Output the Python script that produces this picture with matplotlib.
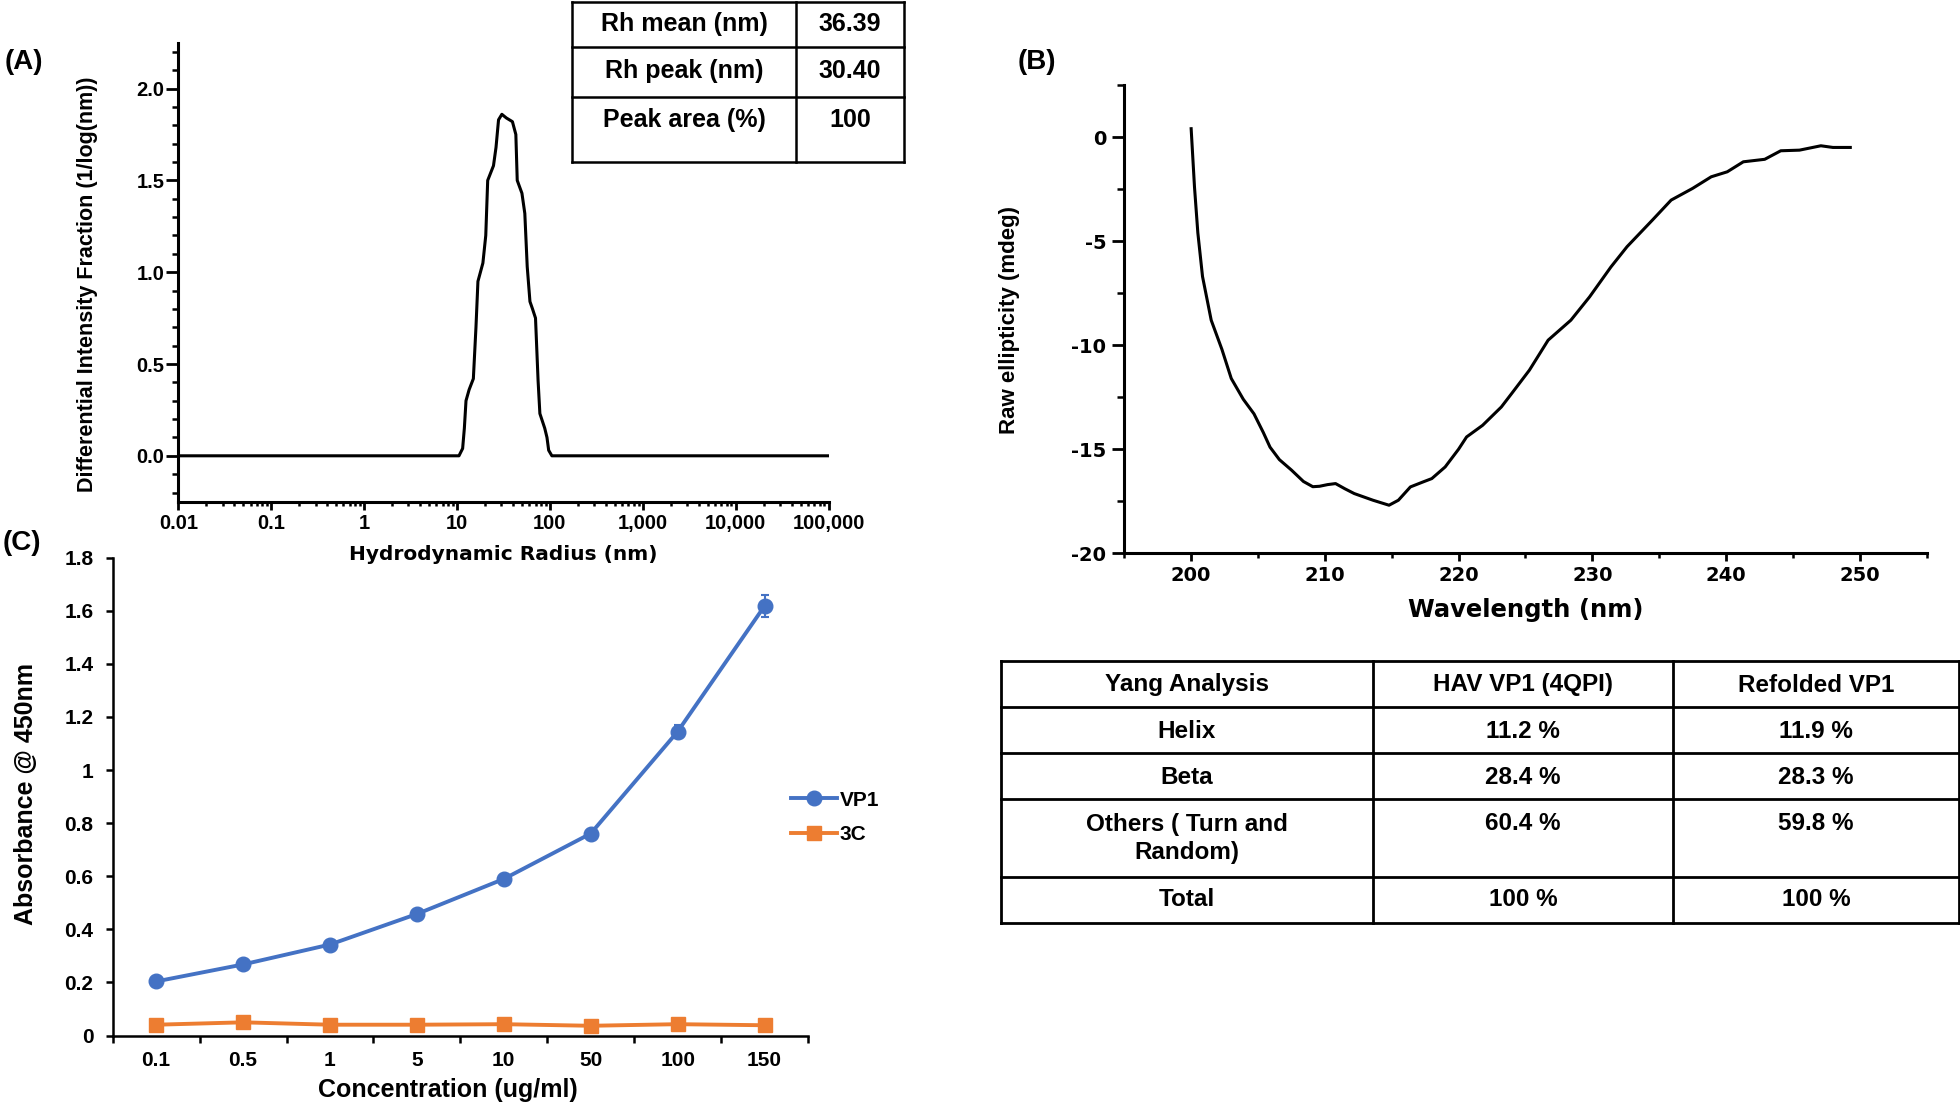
import matplotlib
matplotlib.use('Agg')
import matplotlib.pyplot as plt
from matplotlib.ticker import MultipleLocator, FixedLocator, NullFormatter, FormatStrFormatter
import numpy as np

plt.rcParams['axes.unicode_minus'] = False

W, H = 1960, 1107
ARIAL = ['Liberation Sans', 'DejaVu Sans']
DEJAVU = ['DejaVu Sans']

# ---------------- data ----------------
# (A) DLS size distribution
dls_radius_nm = [0.01, 1.0, 10.5, 11.5, 12.0, 12.5, 13.5, 15.0, 16.0, 16.8, 19.0, 20.4, 21.4,
                 24.7, 26.3, 28.0, 30.4, 34.0, 39.5, 43.0, 44.5, 50.0, 53.7, 57.0, 61.0,
                 65.0, 70.0, 74.6, 78.0, 88.0, 93.0, 97.0, 105.0, 1000.0, 100000.0]
dls_intensity = [0.0, 0.0, 0.0, 0.04, 0.15, 0.30, 0.36, 0.42, 0.70, 0.95, 1.05, 1.20, 1.50,
                 1.58, 1.68, 1.83, 1.86, 1.84, 1.82, 1.75, 1.50, 1.43, 1.32, 1.03, 0.84,
                 0.80, 0.75, 0.41, 0.23, 0.15, 0.10, 0.03, 0.0, 0.0, 0.0]
dls_xticks = [0.01, 0.1, 1, 10, 100, 1000, 10000, 100000]
dls_xticklabels = ['0.01', '0.1', '1', '10', '100', '1,000', '10,000', '100,000']
dls_table_rows = ['Rh mean (nm)', 'Rh peak (nm)', 'Peak area (%)']
dls_table_vals = ['36.39', '30.40', '100']

# (B) CD spectrum
cd_wavelength = [200.0, 200.25, 200.5, 200.85, 201.5, 202.3, 203.0, 203.9, 204.7, 205.4,
                 205.9, 206.6, 207.5, 208.4, 209.1, 209.6, 210.2, 210.8, 211.5, 212.2,
                 213.6, 214.8, 215.5, 216.4, 217.35, 218.0, 219.0, 220.0, 220.6, 221.8,
                 223.2, 224.0, 225.3, 226.7, 228.4, 229.8, 231.4, 232.6, 234.5, 235.9,
                 237.5, 238.9, 240.1, 241.3, 242.9, 244.1, 245.5, 247.1, 248.0, 249.3]
cd_ellipticity = [0.4, -2.4, -4.6, -6.7, -8.8, -10.2, -11.6, -12.6, -13.3, -14.2,
                  -14.9, -15.5, -16.0, -16.55, -16.8, -16.78, -16.7, -16.65, -16.9, -17.13,
                  -17.45, -17.69, -17.45, -16.81, -16.57, -16.41, -15.85, -15.0, -14.41, -13.85,
                  -12.97, -12.3, -11.2, -9.76, -8.8, -7.68, -6.24, -5.27, -3.99, -3.03,
                  -2.47, -1.91, -1.67, -1.19, -1.07, -0.66, -0.63, -0.42, -0.50, -0.50]

# (C) ELISA
conc_labels = ['0.1', '0.5', '1', '5', '10', '50', '100', '150']
vp1_abs = [0.204, 0.268, 0.343, 0.458, 0.590, 0.761, 1.145, 1.618]
vp1_err = [0.01, 0.01, 0.01, 0.01, 0.012, 0.012, 0.025, 0.04]
c3_abs = [0.041, 0.050, 0.041, 0.041, 0.043, 0.037, 0.043, 0.039]

# Yang analysis table
yang_header = ['Yang Analysis', 'HAV VP1 (4QPI)', 'Refolded VP1']
yang_rows = ['Helix', 'Beta', 'Others ( Turn and\nRandom)', 'Total']
yang_hav = ['11.2 %', '28.4 %', '60.4 %', '100 %']
yang_refolded = ['11.9 %', '28.3 %', '59.8 %', '100 %']


def px_rect(l, t, r, b):
    return [l / W, 1 - b / H, (r - l) / W, (b - t) / H]


def style_axes(ax, lw=2.2):
    ax.set_facecolor('none')
    for s in ['top', 'right']:
        ax.spines[s].set_visible(False)
    for s in ['left', 'bottom']:
        ax.spines[s].set_linewidth(lw)
        ax.spines[s].set_color('black')


fig = plt.figure(figsize=(W / 100, H / 100), dpi=100)

# overlay for tables and panel letters
ov = fig.add_axes([0, 0, 1, 1], zorder=5)
ov.set_xlim(0, W)
ov.set_ylim(H, 0)
ov.axis('off')

# ---------------- Panel A ----------------
axA = fig.add_axes(px_rect(178.3, 42.7, 828.6, 501.7))
style_axes(axA)
axA.plot(dls_radius_nm, dls_intensity, color='black', lw=2.2)
axA.set_xscale('log')
axA.set_xlim(0.01, 100000)
axA.set_ylim(-0.25, 2.25)
axA.set_xticks(dls_xticks, dls_xticklabels)
axA.xaxis.set_minor_locator(matplotlib.ticker.LogLocator(base=10, subs=np.arange(2, 10), numticks=20))
axA.xaxis.set_minor_formatter(NullFormatter())
axA.yaxis.set_major_locator(FixedLocator([0.0, 0.5, 1.0, 1.5, 2.0]))
axA.yaxis.set_major_formatter(FormatStrFormatter('%.1f'))
axA.yaxis.set_minor_locator(MultipleLocator(0.1))
axA.tick_params(axis='y', which='major', direction='out', length=8.5, width=2.0, pad=1.5)
axA.tick_params(axis='y', which='minor', direction='out', length=4.5, width=1.8)
axA.tick_params(axis='x', which='major', direction='out', length=6, width=2.0, pad=3)
axA.tick_params(axis='x', which='minor', direction='out', length=3, width=1.8)
for lab in axA.get_xticklabels() + axA.get_yticklabels():
    lab.set_family(ARIAL)
    lab.set_fontweight('bold')
    lab.set_fontsize(14.5)
axA.set_xlabel('Hydrodynamic Radius (nm)', family=DEJAVU, fontweight='bold', fontsize=14.5)
axA.xaxis.set_label_coords(0.5, -0.116)
axA.xaxis.label.set_va('center')
axA.set_ylabel('Differential Intensity Fraction (1/log(nm))', family=ARIAL, fontweight='bold', fontsize=15.5)
axA.yaxis.set_label_coords(-0.139, 0.474)
axA.yaxis.label.set_va('center')

# Table A
tA_x = [572, 796, 904]
tA_y = [1.5, 47, 97, 162]
for y in tA_y:
    ov.plot([tA_x[0], tA_x[-1]], [y, y], color='black', lw=1.8, solid_capstyle='projecting')
for x in tA_x:
    ov.plot([x, x], [tA_y[0], tA_y[-1]], color='black', lw=1.8, solid_capstyle='projecting')
tA_text_y = [24, 71, 120]
for lab, val, y in zip(dls_table_rows, dls_table_vals, tA_text_y):
    ov.text(684, y, lab, ha='center', va='center', family=ARIAL, fontweight='bold', fontsize=18)
    ov.text(850, y, val, ha='center', va='center', family=ARIAL, fontweight='bold', fontsize=18)

# ---------------- Panel B ----------------
axB = fig.add_axes(px_rect(1124.3, 85, 1926.5, 553.3))
style_axes(axB)
axB.plot(cd_wavelength, cd_ellipticity, color='black', lw=2.2)
axB.set_xlim(195, 255)
axB.set_ylim(-20, 2.5)
axB.xaxis.set_major_locator(FixedLocator([200, 210, 220, 230, 240, 250]))
axB.xaxis.set_minor_locator(MultipleLocator(5))
axB.yaxis.set_major_locator(FixedLocator([0, -5, -10, -15, -20]))
axB.yaxis.set_minor_locator(MultipleLocator(2.5))
axB.tick_params(axis='y', which='major', direction='out', length=8.5, width=2.0, pad=4.5)
axB.tick_params(axis='y', which='minor', direction='out', length=5, width=1.8)
axB.tick_params(axis='x', which='major', direction='out', length=5.5, width=2.0, pad=4)
axB.tick_params(axis='x', which='minor', direction='out', length=3.5, width=1.8)
for lab in axB.get_xticklabels() + axB.get_yticklabels():
    lab.set_family(DEJAVU)
    lab.set_fontweight('bold')
    lab.set_fontsize(14)
axB.set_xlabel('Wavelength (nm)', family=DEJAVU, fontweight='bold', fontsize=17.5)
axB.xaxis.set_label_coords(0.5, -0.121)
axB.xaxis.label.set_va('center')
axB.set_ylabel('Raw ellipticity (mdeg)', family=ARIAL, fontweight='bold', fontsize=16)
axB.yaxis.set_label_coords(-0.1425, 0.498)
axB.yaxis.label.set_va('center')

# Yang table
tB_x = [1001, 1373, 1672.5, 1959]
tB_y = [661, 707.3, 753.3, 799.3, 876.7, 923]
for y in tB_y:
    ov.plot([tB_x[0], tB_x[-1]], [y, y], color='black', lw=2.0, solid_capstyle='projecting')
for x in tB_x:
    ov.plot([x, x], [tB_y[0], tB_y[-1]], color='black', lw=2.0, solid_capstyle='projecting')
col_c = [1187, 1523, 1816]
for c, txt in zip(col_c, yang_header):
    ov.text(c, 685, txt, ha='center', va='center', family=ARIAL, fontweight='bold', fontsize=17.5)
row_c = [731.5, 777.5, 823.5, 900]
for i, (r, v1, v2) in enumerate(zip(yang_rows, yang_hav, yang_refolded)):
    y = row_c[i]
    if '\n' in r:
        ov.text(col_c[0], 838.5, r, ha='center', va='center', family=ARIAL, fontweight='bold',
                fontsize=17.5, linespacing=1.25, multialignment='center')
    else:
        ov.text(col_c[0], y, r, ha='center', va='center', family=ARIAL, fontweight='bold', fontsize=17.5)
    ov.text(col_c[1], y, v1, ha='center', va='center', family=ARIAL, fontweight='bold', fontsize=17.5)
    ov.text(col_c[2], y, v2, ha='center', va='center', family=ARIAL, fontweight='bold', fontsize=17.5)

# ---------------- Panel C ----------------
axC = fig.add_axes(px_rect(112.7, 557.7, 808, 1035.6))
style_axes(axC, lw=1.8)
xpos = np.arange(len(conc_labels))
blue = '#4472C4'
orange = '#ED7D31'
axC.errorbar(xpos, vp1_abs, yerr=vp1_err, fmt='none', ecolor=blue,
             capsize=3, elinewidth=1.5, capthick=1.5, zorder=3)
h_vp1, = axC.plot(xpos, vp1_abs, color=blue, lw=2.8, marker='o', markersize=10.5, label='VP1', zorder=4)
h_3c, = axC.plot(xpos, c3_abs, color=orange, lw=2.8, marker='s', markersize=9.5, label='3C', zorder=4)
axC.set_xlim(-0.5, len(conc_labels) - 0.5)
axC.set_ylim(0, 1.8)
axC.set_xticks(xpos, conc_labels)
axC.xaxis.set_minor_locator(FixedLocator(np.arange(len(conc_labels) + 1) - 0.5))
axC.tick_params(axis='x', which='major', length=0, pad=11)
axC.tick_params(axis='x', which='minor', direction='out', length=5, width=1.8)
axC.yaxis.set_major_locator(MultipleLocator(0.2))
axC.yaxis.set_major_formatter(matplotlib.ticker.FuncFormatter(lambda v, p: ('%g' % round(v, 1))))
axC.tick_params(axis='y', which='major', direction='out', length=5, width=1.8, pad=9)
for lab in axC.get_xticklabels() + axC.get_yticklabels():
    lab.set_family(ARIAL)
    lab.set_fontweight('bold')
    lab.set_fontsize(15)
axC.set_xlabel('Concentration (ug/ml)', family=ARIAL, fontweight='bold', fontsize=18)
axC.xaxis.set_label_coords(0.482, -0.114)
axC.xaxis.label.set_va('center')
axC.set_ylabel('Absorbance @ 450nm', family=ARIAL, fontweight='bold', fontsize=18)
axC.yaxis.set_label_coords(-0.1247, 0.5055)
axC.yaxis.label.set_va('center')
leg = axC.legend(handles=[h_vp1, h_3c], loc='center left', bbox_to_anchor=(791 / W, 1 - 817.5 / H),
                 bbox_transform=fig.transFigure, frameon=False, borderpad=0, borderaxespad=0,
                 handlelength=2.2, handletextpad=0.15, labelspacing=0.75,
                 prop={'family': ARIAL, 'weight': 'bold', 'size': 15})

# Panel letters
ov.text(24, 61.7, '(A)', ha='center', va='center', family=ARIAL, fontweight='bold', fontsize=20)
ov.text(1037, 62, '(B)', ha='center', va='center', family=ARIAL, fontweight='bold', fontsize=20)
ov.text(22, 543, '(C)', ha='center', va='center', family=ARIAL, fontweight='bold', fontsize=20)

fig.savefig('out.png', dpi=100)
